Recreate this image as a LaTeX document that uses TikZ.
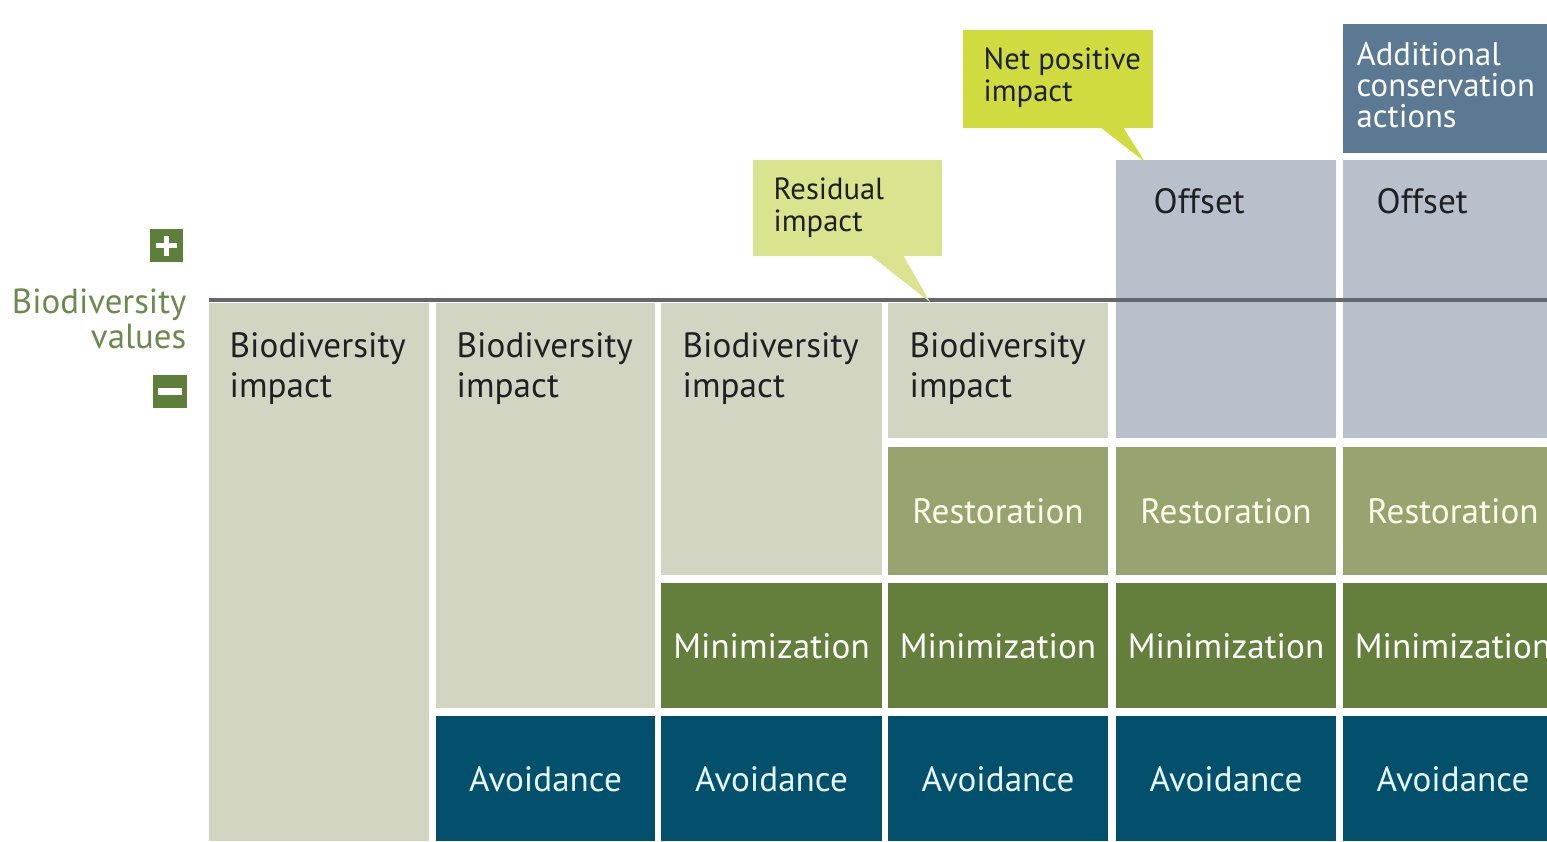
\documentclass[tikz,border=0pt]{standalone}
\usepackage{fontspec}
\setmainfont{PT Sans}
\usetikzlibrary{positioning}

\definecolor{impactc}{HTML}{D2D5C2}
\definecolor{restc}{HTML}{97A46F}
\definecolor{minc}{HTML}{647E3C}
\definecolor{avoidc}{HTML}{02506B}
\definecolor{offsetc}{HTML}{B8C0CB}
\definecolor{addc}{HTML}{5B7993}
\definecolor{resc}{HTML}{DCE38F}
\definecolor{netc}{HTML}{CFDB3E}
\definecolor{signc}{HTML}{5E7F3A}
\definecolor{valc}{HTML}{6B8A4E}
\definecolor{linec}{HTML}{64686C}
\definecolor{inkc}{HTML}{1F2023}

\tikzset{
	boxlbl/.style={inner sep=0pt, font=\fontsize{10}{11.4}\selectfont},
	darklbl/.style={boxlbl, text=inkc, align=left, anchor=north west},
	lightlbl/.style={boxlbl, text=white},
	calloutbox/.style={anchor=north west, inner sep=0pt, align=left, text=inkc,
		font=\fontsize{8.7}{9.1}\selectfont},
	signbox/.style={fill=signc, minimum size=0.33cm, inner sep=0pt}
}

\begin{document}
\begin{tikzpicture}[x=0.01cm,y=-0.01cm]
	\useasboundingbox (0,0) rectangle (1547,841);
	\clip (0,0) rectangle (1547,841);

	% biodiversity impact columns
	\fill[impactc] (209,303) rectangle (429,841);
	\fill[impactc] (436,303) rectangle (655,708);
	\fill[impactc] (661,303) rectangle (882,575);
	\fill[impactc] (888,303) rectangle (1108,438);
	\foreach \xa/\n in {229/1,456/2,682/3,909/4}
		\node[darklbl] (imp\n) at (\xa,332) {Biodiversity\\impact};

	% offset and additional actions
	\fill[offsetc] (1116,160) rectangle (1336,438);
	\fill[offsetc] (1343,160) rectangle (1563,438);
	\fill[addc] (1343,24) rectangle (1563,153);
	\node[boxlbl, text=inkc, anchor=base west] (off1) at (1153,213) {Offset};
	\node[boxlbl, text=inkc, anchor=base west] (off2) at (1376,213) {Offset};
	\node[anchor=north west, inner sep=0pt, align=left, text=white,
		font=\fontsize{9.3}{8.8}\selectfont] (add) at (1356,42) {Additional\\conservation\\actions};

	% mitigation steps
	\foreach \xa/\xb/\n in {888/1108/4,1116/1336/5,1343/1563/6}{
		\fill[restc] (\xa,447) rectangle (\xb,575);
		\node[lightlbl, text=white!92!yellow] (rest\n) at ({(\xa+\xb)/2},511) {Restoration};
	}
	\foreach \xa/\xb/\n in {661/882/3,888/1108/4,1116/1336/5,1343/1563/6}{
		\fill[minc] (\xa,583) rectangle (\xb,708);
		\node[lightlbl] (mini\n) at ({(\xa+\xb)/2},646) {Minimization};
	}
	\foreach \xa/\xb/\n in {436/655/2,661/882/3,888/1108/4,1116/1336/5,1343/1563/6}{
		\fill[avoidc] (\xa,716) rectangle (\xb,841);
		\node[lightlbl, text=white!90!cyan] (avoid\n) at ({(\xa+\xb)/2},779) {Avoidance};
	}

	% zero line
	\draw[linec, line width=1.15pt] (209,300) -- (1547,300);

	% callouts
	\fill[resc] (753,160) rectangle (942,256);
	\node[calloutbox] (resid) at (773,177) {Residual\\impact};
	\coordinate (residTip) at (930,302);
	\fill[resc] (870,255) -- (903,255) -- (residTip) -- cycle;

	\fill[netc] (963,30) rectangle (1153,128);
	\node[calloutbox] (netpos) at (983,47) {Net positive\\impact};
	\coordinate (netTip) at (1145,162);
	\fill[netc] (1100,127) -- (1123,127) -- (netTip) -- cycle;

	% axis legend
	\node[signbox] (plus) at (166.5,245.5) {};
	\draw[white, line width=1.2pt] ([xshift=-0.1cm]plus.center) -- ([xshift=0.1cm]plus.center);
	\draw[white, line width=1.2pt] ([yshift=-0.1cm]plus.center) -- ([yshift=0.1cm]plus.center);
	\node[signbox] (minus) at (170,391.5) {};
	\draw[white, line width=2pt] ([xshift=-0.12cm]minus.center) -- ([xshift=0.12cm]minus.center);
	\node[anchor=north east, inner sep=0pt, align=right, text=valc,
		font=\fontsize{9.9}{9.9}\selectfont] (bval) at (187,288) {Biodiversity\\values};
\end{tikzpicture}
\end{document}
